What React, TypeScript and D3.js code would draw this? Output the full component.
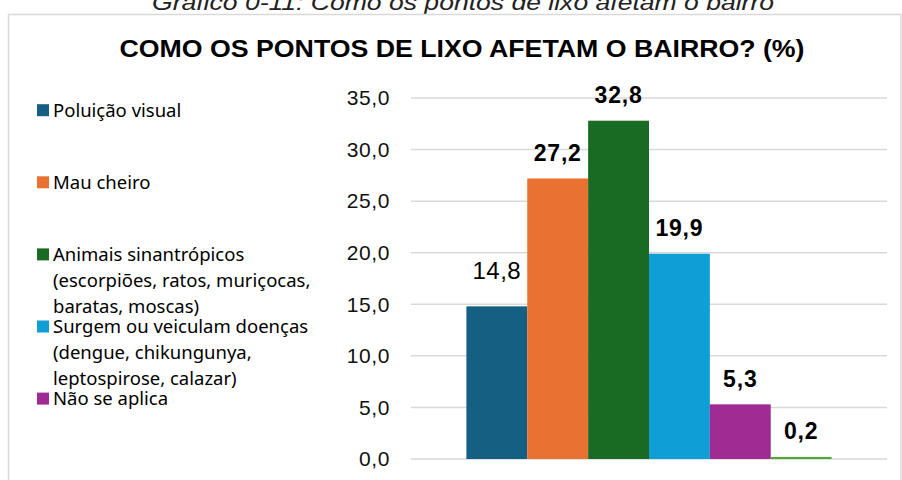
import React from 'react';
import * as d3 from 'd3';

const caption = 'Gráfico 0-11: Como os pontos de lixo afetam o bairro';
const title = 'COMO OS PONTOS DE LIXO AFETAM O BAIRRO? (%)';
const category = 'Como os pontos de lixo afetam o bairro';

const seriesNames = [
  'Poluição visual',
  'Mau cheiro',
  'Animais sinantrópicos (escorpiões, ratos, muriçocas, baratas, moscas)',
  'Surgem ou veiculam doenças (dengue, chikungunya, leptospirose, calazar)',
  'Não se aplica',
  'Outros',
];
// legend text as wrapped in the picture (last series has no legend entry)
const legendLines = [
  ['Poluição visual'],
  ['Mau cheiro'],
  ['Animais sinantrópicos', '(escorpiões, ratos, muriçocas,', 'baratas, moscas)'],
  ['Surgem ou veiculam doenças', '(dengue, chikungunya,', 'leptospirose, calazar)'],
  ['Não se aplica'],
];
const seriesValues = [14.8, 27.2, 32.8, 19.9, 5.3, 0.2];
const yTicks = [0, 5, 10, 15, 20, 25, 30, 35];

const palette = ['#156082', '#e97132', '#196b24', '#0f9ed5', '#a02b93', '#4ea72e'];

const W = 902;
const H = 480;
const plot = { left: 411, right: 887, top: 98, bottom: 459 };
const gapWidth = 1.82;

const fmt = (v: number) => v.toFixed(1).replace('.', ',');

export default function App() {
  const y = d3.scaleLinear().domain([0, 35]).range([plot.bottom, plot.top]);
  const x0 = d3.scaleBand<string>().domain([category]).range([plot.left, plot.right]);
  const band = x0.bandwidth();
  const barW = band / (seriesNames.length + gapWidth);
  const gap = (barW * gapWidth) / 2;
  const x1 = d3
    .scaleBand<string>()
    .domain(seriesNames)
    .range([(x0(category) ?? 0) + gap, (x0(category) ?? 0) + band - gap]);

  const sans = '"Liberation Sans", Arial, Helvetica, sans-serif';
  const legendFont = '"Noto Sans", "Open Sans", sans-serif';

  return (
    <svg
      width={W}
      height={H}
      style={{ position: 'absolute', left: 0, top: 0, background: '#fff' }}
    >
      <text
        x={463}
        y={10}
        textAnchor="middle"
        fontFamily={sans}
        fontStyle="italic"
        fontSize={22}
        fill="#222"
        textLength={622}
        lengthAdjust="spacingAndGlyphs"
      >
        {caption}
      </text>
      <rect x={8.5} y={14.5} width={892.5} height={480} fill="none" stroke="#d9d9d9" strokeWidth={1.5} />

      <text
        x={462}
        y={57}
        textAnchor="middle"
        fontFamily={sans}
        fontWeight="bold"
        fontSize={24}
        fill="#000"
        textLength={685}
        lengthAdjust="spacingAndGlyphs"
      >
        {title}
      </text>

      {/* gridlines and y axis labels */}
      {yTicks.map(t => (
        <g key={t}>
          <line x1={plot.left} x2={plot.right} y1={y(t)} y2={y(t)} stroke="#d9d9d9" strokeWidth={1.5} />
          <text
            x={390}
            y={y(t)}
            dy="0.35em"
            textAnchor="end"
            fontFamily={sans}
            fontSize={21}
            letterSpacing={0.6}
            fill="#111"
          >
            {fmt(t)}
          </text>
        </g>
      ))}

      {/* bars */}
      {seriesNames.map((s, i) => (
        <rect
          key={s}
          x={x1(s)}
          y={y(seriesValues[i])}
          width={x1.bandwidth()}
          height={y(0) - y(seriesValues[i])}
          fill={palette[i]}
        />
      ))}

      {/* data labels */}
      {seriesNames.map((s, i) => {
        const plain = i === 0;
        return (
          <text
            key={s}
            x={(x1(s) ?? 0) + x1.bandwidth() / 2}
            y={y(seriesValues[i]) - (plain ? 27 : 17.5)}
            textAnchor="middle"
            fontFamily={sans}
            fontWeight={plain ? 'normal' : 'bold'}
            fontSize={plain ? 24 : 23}
            letterSpacing={plain ? 0.5 : 0.8}
            fill="#000"
          >
            {fmt(seriesValues[i])}
          </text>
        );
      })}

      {/* legend */}
      {legendLines.map((lines, i) => {
        const base = 116.7 + i * 72.1;
        return (
          <g key={i}>
            <rect x={37} y={base - 12.5} width={12} height={12} fill={palette[i]} />
            {lines.map((ln, j) => (
              <text
                key={j}
                x={53}
                y={base + j * 26}
                fontFamily={legendFont}
                fontSize={18.5}
                fill="#000"
              >
                {ln}
              </text>
            ))}
          </g>
        );
      })}
    </svg>
  );
}
